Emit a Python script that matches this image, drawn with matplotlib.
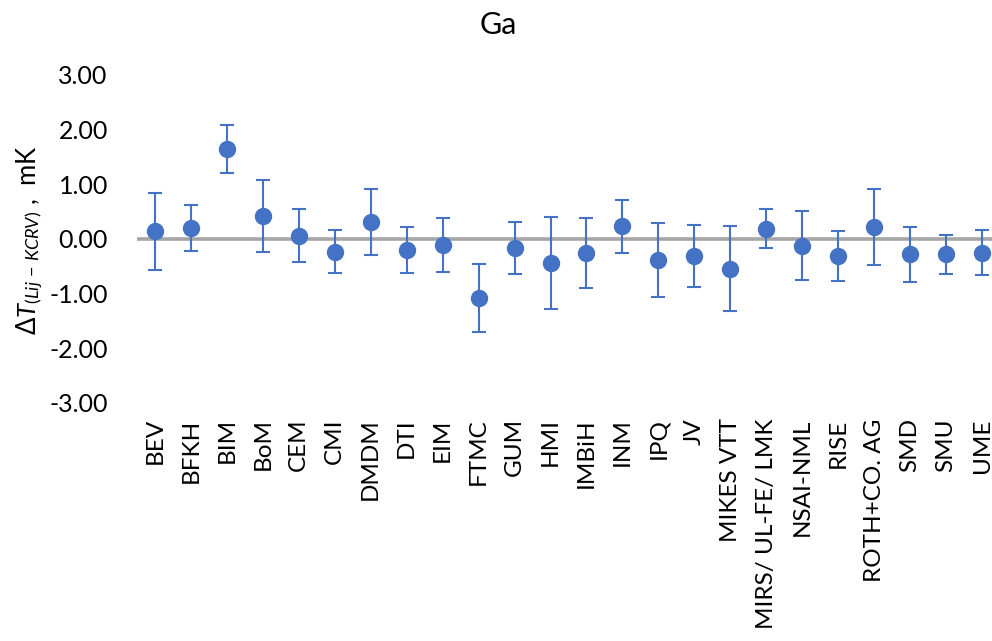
import matplotlib
matplotlib.use("Agg")
import matplotlib.pyplot as plt
import numpy as np

labs = ["BEV", "BFKH", "BIM", "BoM", "CEM", "CMI", "DMDM", "DTI", "EIM", "FTMC",
        "GUM", "HMI", "IMBiH", "INM", "IPQ", "JV", "MIKES VTT", "MIRS/ UL-FE/ LMK",
        "NSAI-NML", "RISE", "ROTH+CO. AG", "SMD", "SMU", "UME"]
vals = [0.14, 0.20, 1.65, 0.42, 0.06, -0.23, 0.31, -0.20, -0.11, -1.08,
        -0.16, -0.44, -0.25, 0.23, -0.39, -0.31, -0.54, 0.19,
        -0.12, -0.31, 0.22, -0.28, -0.28, -0.25]
unc = [0.70, 0.42, 0.44, 0.66, 0.48, 0.40, 0.60, 0.42, 0.49, 0.62,
       0.48, 0.84, 0.64, 0.49, 0.68, 0.56, 0.77, 0.35,
       0.63, 0.46, 0.70, 0.50, 0.36, 0.41]
yticks = [-3, -2, -1, 0, 1, 2, 3]

plt.rcParams['font.family'] = ['Lato', 'DejaVu Sans']
plt.rcParams['mathtext.fontset'] = 'custom'
plt.rcParams['mathtext.rm'] = 'Lato'
plt.rcParams['mathtext.it'] = 'Lato:italic'

W, H = 992, 641
fig = plt.figure(figsize=(W / 100, H / 100), dpi=100)
ax = fig.add_axes([137 / W, 1 - 403 / H, 863 / W, 328 / H])

x = np.arange(len(labs))
ax.axhline(0, color='#A6A6A6', lw=2.6, zorder=1)
ax.errorbar(x, vals, yerr=unc, fmt='o', color='#4472C4', ecolor='#4472C4',
            markersize=11.5, elinewidth=1.5, capsize=5, capthick=1.5, zorder=3)

ax.set_xlim(-0.5, len(labs) - 0.5)
ax.set_ylim(-3, 3)
ax.set_yticks(yticks)
ax.set_yticklabels([f"{v:.2f}" for v in yticks], fontsize=18)
ax.set_xticks(x)
ax.set_xticklabels(labs, rotation=90, fontsize=17.5)
ax.tick_params(axis='both', length=0)
ax.tick_params(axis='y', pad=21)
ax.tick_params(axis='x', pad=11)
for s in ax.spines.values():
    s.set_visible(False)

fig.text(498 / W, 1 - 25 / H, "Ga", ha='center', va='center', fontsize=22)
fig.text(30 / W, 1 - 240 / H, r'$\Delta T_{(Lij\,-\,KCRV)}$ ,  mK', rotation=90,
         ha='center', va='center', fontsize=18.5)

fig.savefig("out.png", dpi=100)
